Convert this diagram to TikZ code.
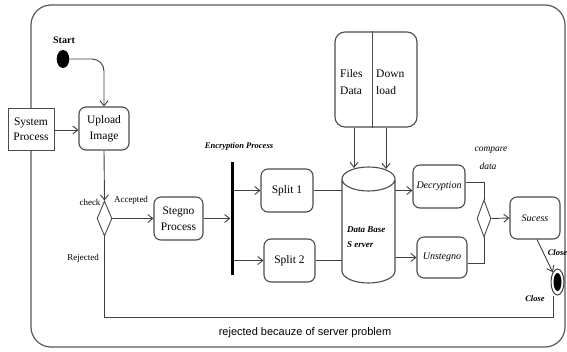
\documentclass[tikz,border=0pt]{standalone}
\usepackage{fontspec}
\setmainfont{Liberation Serif}
\newfontfamily\capfont{Liberation Sans}
\usetikzlibrary{arrows.meta,shapes.geometric}
\begin{document}
\begin{tikzpicture}[x=1pt,y=-1pt,
  ln/.style={draw=black!75, line width=0.9pt},
  arr/.style={ln, -{Straight Barb[length=5pt,width=8pt]}},
  actbox/.style={draw=black!70, line width=1.1pt, rounded corners=7pt, fill=white, inner sep=0pt, align=center, font=\fontsize{11.5}{15.5}\selectfont},
  itbox/.style={actbox, font=\fontsize{10}{12}\selectfont\itshape},
  decision/.style={diamond, draw=black!70, line width=0.9pt, inner sep=0pt, fill=white},
  lbl/.style={font=\fontsize{9}{10}\selectfont, inner sep=0pt},
  ilbl/.style={font=\fontsize{8.5}{10}\selectfont\itshape\bfseries, inner sep=0pt},
]
\useasboundingbox (0,0) rectangle (567,351);
\fill[white] (0,0) rectangle (567,351);
% frame
\draw[draw=black!65, line width=1.2pt, rounded corners=20pt] (31,5) rectangle (565,347);

% start
\node[ellipse, fill=black, minimum width=12.6pt, minimum height=18pt, inner sep=0pt] (start) at (63,59) {};
\node[font=\fontsize{10}{11}\selectfont\bfseries, inner sep=0pt] (startlbl) at (64,40) {Start};

% boxes
\node[actbox, minimum width=50pt, minimum height=43pt] (upload) at (104,128.5) {Upload\\Image};
\node[actbox, rounded corners=0pt, line width=0.9pt, minimum width=46pt, minimum height=42pt] (sysproc) at (31,129) {System\\Process};
\node[decision, minimum width=15pt, minimum height=35pt] (chk) at (104.5,218.5) {};
\node[actbox, minimum width=49pt, minimum height=43pt] (stegno) at (178.5,218.5) {Stegno\\Process};
\node[fill=black, minimum width=3pt, minimum height=113pt, inner sep=0pt] (bar) at (232,218.5) {};
\node[actbox, minimum width=52pt, minimum height=43pt] (split1) at (287,190.5) {Split 1};
\node[actbox, minimum width=51pt, minimum height=43pt] (split2) at (289.5,260.5) {Split 2};

% database cylinder
\node[minimum width=53pt, minimum height=116pt, inner sep=0pt] (db) at (368.5,225) {};
\draw[draw=black!70, line width=1.1pt, fill=white]
  (342,179) arc[start angle=180, end angle=360, x radius=26.5pt, y radius=12pt]
  arc[start angle=0, end angle=180, x radius=26.5pt, y radius=12pt]
  -- (342,271) arc[start angle=180, end angle=360, x radius=26.5pt, y radius=12pt]
  -- (395,179);
\node[font=\fontsize{9}{15}\selectfont\itshape\bfseries, align=left, inner sep=0pt, anchor=west] (dbtxt) at (347,237) {Data Base\\S erver};

% files / download
\node[draw=black!70, line width=1.1pt, rounded corners=10pt, minimum width=82pt, minimum height=95pt, inner sep=0pt] (fdbox) at (376,79.5) {};
\draw[draw=black!70, line width=0.9pt] (fdbox.north -| 372,0) -- (fdbox.south -| 372,0);
\node[font=\fontsize{11.5}{17}\selectfont, align=left, anchor=west, inner sep=0pt] (files) at (340,82) {Files\\Data};
\node[font=\fontsize{11.5}{17}\selectfont, align=left, anchor=west, inner sep=0pt] (down) at (376,82) {Down\\load};

\node[itbox, minimum width=52pt, minimum height=43pt] (dec) at (439,186.5) {Decryption};
\node[itbox, minimum width=50pt, minimum height=41pt] (uns) at (442,257.5) {Unstegno};
\node[decision, minimum width=14pt, minimum height=37pt] (cmp) at (484,218.5) {};
\node[itbox, minimum width=50pt, minimum height=42pt] (suc) at (535,218) {Sucess};

% final state
\node[ellipse, draw=black!75, line width=1pt, fill=white, minimum width=13pt, minimum height=26pt, inner sep=0pt] (final) at (557.5,282) {};
\node[ellipse, fill=black, minimum width=8pt, minimum height=18pt, inner sep=0pt] (finaldot) at (final) {};

% labels
\node[lbl] (lcheck) at (90,202) {check};
\node[lbl] (lacc) at (131,200) {Accepted};
\node[lbl] (lrej) at (83,258) {Rejected};
\node[ilbl] (lenc) at (239,146) {Encryption Process};
\node[font=\fontsize{9.5}{10}\selectfont\itshape, inner sep=0pt] (lcmp1) at (491,150) {compare};
\node[font=\fontsize{9.5}{10}\selectfont\itshape, inner sep=0pt] (lcmp2) at (488,166) {data};
\node[ilbl] (lclose1) at (557.5,253) {Close};
\node[ilbl] (lclose2) at (535,299) {Close};
\node[font=\capfont\fontsize{11}{12}\selectfont, inner sep=0pt] (lsrv) at (305,333) {rejected becauze of server problem};

% connectors
\draw[arr, rounded corners=12pt] (start.east) -| (upload.north);
\draw[arr] (sysproc.east |- 0,130) -- (upload.west |- 0,130);
\draw[arr] (upload.south) -- (chk.north);
\draw[arr] (chk.east) -- (stegno.west);
\draw[arr] (stegno.east) -- (bar.west |- stegno.east);
\draw[arr] (bar.east |- split1.west) -- (split1.west);
\draw[arr] (bar.east |- split2.west) -- (split2.west);
\draw[ln] (split1.east) -- (split1.east -| db.west);
\draw[ln] (split2.east) -- (split2.east -| db.west);
\draw[arr] (db.east |- split1.east) -- (dec.west |- split1.east);
\draw[arr] (db.east |- uns.west) -- (uns.west);
\draw[arr] (fdbox.south -| 354,0) -- (354,168);
\draw[arr] (fdbox.south -| 386,0) -- (386,169);
\draw[ln] ([yshift=4.5pt]dec.east) -| (cmp.north);
\draw[ln] ([yshift=-5.5pt]uns.east) -| (cmp.south);
\draw[arr] (cmp.east) -- (suc.west);
\draw[arr] ([xshift=2pt]suc.south) -- (final);
\draw[ln] (chk.south) -- (chk.south |- 0,317) -| ([xshift=-4pt]final.south);
\end{tikzpicture}
\end{document}
